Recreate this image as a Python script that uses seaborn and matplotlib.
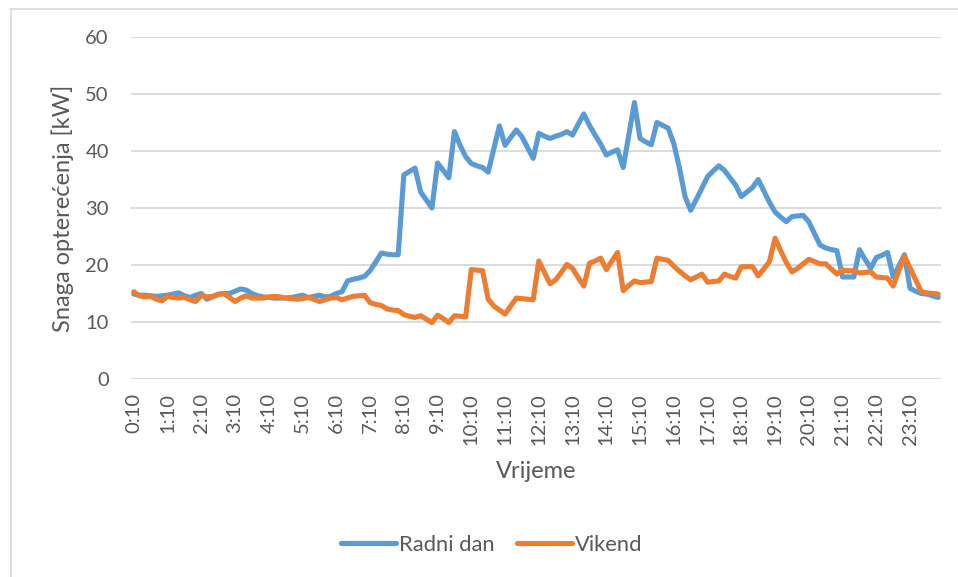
import matplotlib
matplotlib.use("Agg")
import matplotlib.pyplot as plt
import seaborn as sns
import pandas as pd
from matplotlib.lines import Line2D

# 10-minutni intervali, 0:10 ... 24:00 (144 tocke)
radni_dan = [
    14.9, 14.7, 14.7, 14.6, 14.5, 14.6, 14.7, 14.9, 15.1, 14.6, 14.3, 14.7,
    15.0, 14.0, 14.4, 14.9, 15.0, 15.0, 15.4, 15.8, 15.6, 15.0, 14.6, 14.4,
    14.3, 14.2, 14.2, 14.2, 14.3, 14.5, 14.7, 14.3, 14.5, 14.7, 14.4, 14.5,
    15.0, 15.3, 17.2, 17.5, 17.7, 18.0, 19.0, 20.5, 22.1, 21.9, 21.8, 21.8,
    35.8, 36.4, 37.0, 32.8, 31.4, 30.0, 37.9, 36.6, 35.3, 43.4, 41.0, 39.0,
    37.8, 37.4, 37.1, 36.3, 40.4, 44.4, 41.0, 42.4, 43.7, 42.5, 40.6, 38.7,
    43.1, 42.6, 42.2, 42.6, 42.9, 43.4, 42.8, 44.7, 46.5, 44.5, 42.8, 41.2,
    39.3, 39.8, 40.2, 37.1, 42.8, 48.5, 42.2, 41.6, 41.1, 45.0, 44.5, 44.0,
    41.3, 37.0, 32.0, 29.6, 31.5, 33.5, 35.5, 36.5, 37.4, 36.6, 35.3, 34.0,
    32.0, 32.8, 33.6, 35.0, 33.0, 31.0, 29.3, 28.4, 27.6, 28.5, 28.6, 28.7,
    27.6, 25.5, 23.5, 23.0, 22.7, 22.5, 17.9, 17.9, 17.9, 22.7, 21.0, 19.4,
    21.3, 21.7, 22.2, 17.9, 19.8, 21.8, 15.9, 15.4, 15.0, 14.9, 14.6, 14.3,
]
vikend = [
    15.3, 14.6, 14.4, 14.5, 14.0, 13.7, 14.5, 14.3, 14.2, 14.3, 13.9, 13.6,
    14.7, 14.4, 14.5, 14.8, 15.0, 14.3, 13.6, 14.2, 14.6, 14.2, 14.2, 14.2,
    14.4, 14.5, 14.4, 14.2, 14.1, 14.0, 14.1, 14.3, 14.0, 13.6, 13.9, 14.2,
    14.3, 13.9, 14.2, 14.5, 14.6, 14.7, 13.4, 13.1, 12.9, 12.3, 12.1, 12.0,
    11.3, 11.0, 10.8, 11.1, 10.5, 9.9, 11.2, 10.6, 9.9, 11.1, 11.0, 10.9,
    19.2, 19.1, 19.0, 14.0, 12.8, 12.1, 11.4, 12.8, 14.2, 14.1, 14.0, 13.9,
    20.7, 18.7, 16.7, 17.4, 18.7, 20.1, 19.4, 17.8, 16.3, 20.3, 20.7, 21.2,
    19.2, 20.7, 22.2, 15.5, 16.4, 17.2, 16.9, 17.0, 17.1, 21.2, 21.0, 20.8,
    19.8, 18.9, 18.1, 17.4, 17.9, 18.4, 17.0, 17.1, 17.2, 18.4, 18.0, 17.7,
    19.7, 19.7, 19.7, 18.1, 19.3, 20.6, 24.7, 22.5, 20.4, 18.8, 19.4, 20.2,
    21.0, 20.6, 20.2, 20.2, 19.3, 18.4, 19.1, 19.0, 19.0, 18.6, 18.7, 18.8,
    17.9, 17.8, 17.7, 16.3, 19.0, 21.5, 19.5, 17.4, 15.3, 15.1, 15.0, 14.9,
]
tick_labels = [
    "0:10", "1:10", "2:10", "3:10", "4:10", "5:10", "6:10", "7:10",
    "8:10", "9:10", "10:10", "11:10", "12:10", "13:10", "14:10", "15:10",
    "16:10", "17:10", "18:10", "19:10", "20:10", "21:10", "22:10", "23:10",
]
y_ticks = [0, 10, 20, 30, 40, 50, 60]

df = pd.DataFrame({
    "idx": list(range(len(radni_dan))) * 2,
    "Snaga": radni_dan + vikend,
    "Serija": ["Radni dan"] * len(radni_dan) + ["Vikend"] * len(vikend),
})

sns.set_theme(style="white")
plt.rcParams["font.family"] = ["Lato", "DejaVu Sans"]
txt = "#595959"
grid_c = "#D9D9D9"
colors = {"Radni dan": "#5B9BD5", "Vikend": "#ED7D31"}

fig = plt.figure(figsize=(9.58, 5.77), dpi=100)
ax = fig.add_axes([131 / 958, 1 - 379 / 577, (941 - 131) / 958, (379 - 37) / 577])

sns.lineplot(data=df, x="idx", y="Snaga", hue="Serija", palette=colors,
             linewidth=3.7, ax=ax, legend=False, zorder=3)
for ln in ax.get_lines():
    ln.set_solid_joinstyle("round")
    ln.set_solid_capstyle("round")

ax.set_xlim(-0.5, len(radni_dan) - 0.5)
ax.set_ylim(0, 60)
ax.set_yticks(y_ticks)
ax.set_xticks(range(0, len(radni_dan), 6))
ax.set_xticklabels(tick_labels, rotation=90)
ax.yaxis.grid(True, color=grid_c, linewidth=1.3)
ax.set_axisbelow(True)
for s in ax.spines.values():
    s.set_visible(False)
ax.tick_params(axis="y", length=0, pad=16, labelsize=14.5, labelcolor=txt)
ax.tick_params(axis="x", length=0, pad=10, labelsize=14.5, labelcolor=txt)
ax.set_xlabel("Vrijeme", fontsize=17, color=txt, labelpad=12)
ax.set_ylabel("Snaga opterećenja [kW]", fontsize=17, color=txt, labelpad=8)

handles = [Line2D([0], [0], color=colors[k], lw=3.7, solid_capstyle="round")
           for k in colors]
fig.legend(handles, list(colors), loc="center", ncol=2, frameon=False,
           bbox_to_anchor=(492 / 958, 1 - 545 / 577), fontsize=15.8,
           handlelength=2.5, handletextpad=0.15, columnspacing=1.0,
           labelcolor=txt)

# okvir grafikona (vidljivi samo gornji i lijevi rub)
fig.add_artist(Line2D([10 / 958, 1], [1 - 8.5 / 577] * 2, color=grid_c, lw=1.2))
fig.add_artist(Line2D([10.5 / 958] * 2, [0, 1 - 8.5 / 577], color=grid_c, lw=1.2))

fig.savefig("out.png", dpi=100)
